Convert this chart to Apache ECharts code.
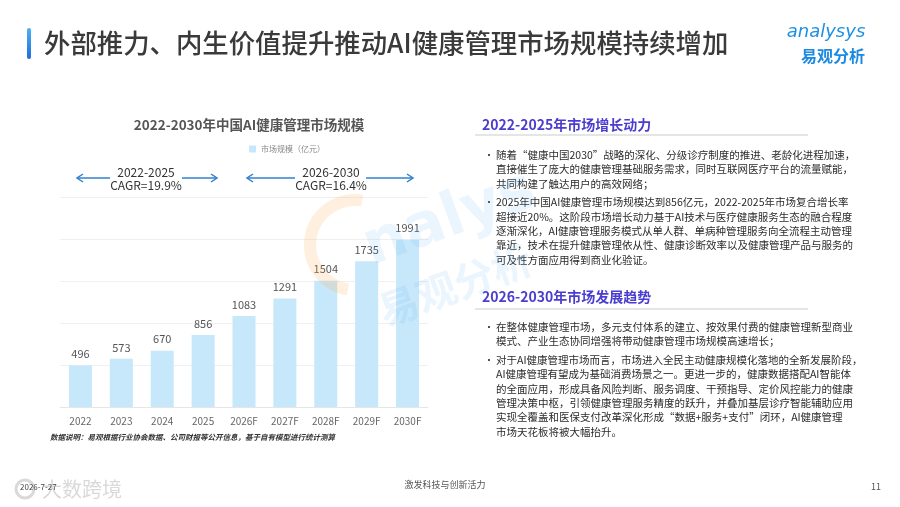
<!DOCTYPE html>
<html><head><meta charset="utf-8">
<script src="https://cdn.jsdelivr.net/npm/echarts@6/dist/echarts.min.js"></script>
<style>html,body{margin:0;padding:0;background:#fff;}#c{width:900px;height:507px;}</style>
</head><body><div id="c"></div>
<script>
const categories = ['2022','2023','2024','2025','2026F','2027F','2028F','2029F','2030F'];
const marketSize = [496, 573, 670, 856, 1083, 1291, 1504, 1735, 1991];
const seriesName = '市场规模（亿元）';
const chartTitle = '2022-2030年中国AI健康管理市场规模';
const pageTitle = '外部推力、内生价值提升推动AI健康管理市场规模持续增加';
const cagrLabels = [['2022-2025','CAGR=19.9%'],['2026-2030','CAGR=16.4%']];
const noteText = '数据说明：易观根据行业协会数据、公司财报等公开信息，基于自有模型进行统计测算';
const heading1 = '2022-2025年市场增长动力';
const heading2 = '2026-2030年市场发展趋势';
const bullets1 = [
 ['随着“健康中国2030”战略的深化、分级诊疗制度的推进、老龄化进程加速，',
  '直接催生了庞大的健康管理基础服务需求，同时互联网医疗平台的流量赋能，',
  '共同构建了触达用户的高效网络；'],
 ['2025年中国AI健康管理市场规模达到856亿元，2022-2025年市场复合增长率',
  '超接近20%。这阶段市场增长动力基于AI技术与医疗健康服务生态的融合程度',
  '逐渐深化，AI健康管理服务模式从单人群、单病种管理服务向全流程主动管理',
  '靠近，技术在提升健康管理依从性、健康诊断效率以及健康管理产品与服务的',
  '可及性方面应用得到商业化验证。']
];
const bullets2 = [
 ['在整体健康管理市场，多元支付体系的建立、按效果付费的健康管理新型商业',
  '模式、产业生态协同增强将带动健康管理市场规模高速增长；'],
 ['对于AI健康管理市场而言，市场进入全民主动健康规模化落地的全新发展阶段，',
  'AI健康管理有望成为基础消费场景之一。更进一步的，健康数据搭配AI智能体',
  '的全面应用，形成具备风险判断、服务调度、干预指导、定价风控能力的健康',
  '管理决策中枢，引领健康管理服务精度的跃升，并叠加基层诊疗智能辅助应用',
  '实现全覆盖和医保支付改革深化形成“数据+服务+支付”闭环，AI健康管理',
  '市场天花板将被大幅抬升。']
];
const footerDate = '2026-7-27';
const footerCenter = '激发科技与创新活力';
const pageNo = '11';

const FONT = '"Noto Sans CJK SC","Noto Sans",sans-serif';
const chart = echarts.init(document.getElementById('c'));

const g = [];
// title bar
g.push({type:'rect', shape:{x:27,y:28,width:4,height:31,r:2}, style:{fill:new echarts.graphic.LinearGradient(0,0,0,1,[{offset:0,color:'#4fb0f5'},{offset:1,color:'#1d6fd6'}])}});
g.push({type:'text', x:44, y:43, style:{text:pageTitle, font:'500 26.4px '+FONT, fill:'#3a3a3a', textVerticalAlign:'middle'}});
// logo
g.push({type:'text', x:826, y:32, style:{text:'analysys', font:'italic 18px "DejaVu Sans",sans-serif', fill:'#1c8fe3', textAlign:'center', textVerticalAlign:'middle'}});
g.push({type:'text', x:833, y:56, style:{text:'易观分析', font:'bold 16px '+FONT, fill:'#1c8ae0', textAlign:'center', textVerticalAlign:'middle'}});

// CAGR annotations
const arrowColor = '#2f80d0';
function arrow(x1,x2,y,dir){
  g.push({type:'line', shape:{x1:x1,y1:y,x2:x2,y2:y}, style:{stroke:arrowColor,lineWidth:1.5}});
  const hx = dir<0 ? x1 : x2;
  g.push({type:'polyline', shape:{points:[[hx-dir*6,y-4],[hx,y],[hx-dir*6,y+4]]}, style:{stroke:arrowColor,lineWidth:1.5,fill:null}});
}
arrow(77,110,178,-1); arrow(182,217,178,1);
arrow(247,295,178,-1); arrow(366,413,178,1);
[[146,cagrLabels[0]],[331,cagrLabels[1]]].forEach(function(p){
  g.push({type:'text', x:p[0], y:172, style:{text:p[1][0], font:'12px '+FONT, fill:'#333', textAlign:'center', textVerticalAlign:'middle'}});
  g.push({type:'text', x:p[0], y:185, style:{text:p[1][1], font:'12px '+FONT, fill:'#333', textAlign:'center', textVerticalAlign:'middle'}});
});
// data note
g.push({type:'text', x:50, y:437, style:{text:noteText, font:'italic bold 7.5px '+FONT, fill:'#333', textVerticalAlign:'middle'}});

// right panel
function section(heading, hy, lineY, bullets, startY){
  g.push({type:'text', x:482, y:hy, style:{text:heading, font:'bold 14px '+FONT, fill:'#4b3dcf', textVerticalAlign:'middle'}});
  g.push({type:'line', shape:{x1:475,y1:lineY,x2:808,y2:lineY}, style:{stroke:'#dcdcdc',lineWidth:1.5}});
  let y = startY;
  bullets.forEach(function(lines){
    g.push({type:'text', x:484, y:y, style:{text:'•', font:'10px '+FONT, fill:'#333', textVerticalAlign:'middle'}});
    lines.forEach(function(l){
      g.push({type:'text', x:496, y:y, style:{text:l, font:'10.5px '+FONT, fill:'#2b2b2b', textVerticalAlign:'middle'}});
      y += 14.4;
    });
    y += 4;
  });
}
section(heading1, 125, 135, bullets1, 155);
section(heading2, 297, 309, bullets2, 327);

// footer
g.push({type:'text', x:42, y:489, style:{text:'大数跨境', font:'20px '+FONT, fill:'rgba(170,170,170,0.45)', textVerticalAlign:'middle'}});
g.push({type:'circle', shape:{cx:25,cy:489,r:9}, style:{stroke:'rgba(170,170,170,0.45)',lineWidth:3,fill:null}});
g.push({type:'text', x:20, y:487, style:{text:footerDate, font:'8px '+FONT, fill:'#444', textVerticalAlign:'middle'}});
g.push({type:'text', x:445, y:485, style:{text:footerCenter, font:'9px '+FONT, fill:'#555', textAlign:'center', textVerticalAlign:'middle'}});
g.push({type:'text', x:876, y:487, style:{text:pageNo, font:'9px '+FONT, fill:'#555', textAlign:'center', textVerticalAlign:'middle'}});

// faint watermark
g.push({type:'arc', z:50, shape:{cx:355,cy:245,r:45,startAngle:Math.PI*0.55,endAngle:Math.PI*1.55}, style:{stroke:'rgba(250,175,90,0.2)',lineWidth:12,fill:null}});
g.push({type:'text', z:50, x:450, y:220, rotation:0.35, style:{text:'nalys', font:'bold 60px "DejaVu Sans",sans-serif', fill:'rgba(90,175,235,0.12)', textAlign:'center', textVerticalAlign:'middle'}});
g.push({type:'text', z:50, x:455, y:285, rotation:0.35, style:{text:'易观分析', font:'bold 40px '+FONT, fill:'rgba(90,175,235,0.12)', textAlign:'center', textVerticalAlign:'middle'}});

chart.setOption({
  animation:false,
  textStyle:{fontFamily:FONT},
  title:{text:chartTitle, left:244, top:113, textAlign:'center', textStyle:{fontSize:13.5, fontWeight:'bold', color:'#555'}},
  legend:{data:[seriesName], top:140, left:244, textAlign:'center', icon:'rect', itemWidth:7, itemHeight:7, itemGap:5, textStyle:{fontSize:8, color:'#888'}},
  grid:{left:60, right:472, top:197, bottom:100},
  xAxis:{type:'category', data:categories, axisLine:{lineStyle:{color:'#e6e6e6'}}, axisTick:{show:false}, axisLabel:{color:'#666', fontSize:10, margin:9}},
  yAxis:{type:'value', min:0, max:2500, interval:500, axisLabel:{show:false}, axisLine:{show:false}, axisTick:{show:false}, splitLine:{lineStyle:{color:'#f0f0f0'}}},
  series:[{name:seriesName, type:'bar', data:marketSize, barWidth:23, itemStyle:{color:'#c7e8fb'}, label:{show:true, position:'top', distance:6, color:'#555', fontSize:11}}],
  graphic:{elements:g}
});
</script></body></html>
